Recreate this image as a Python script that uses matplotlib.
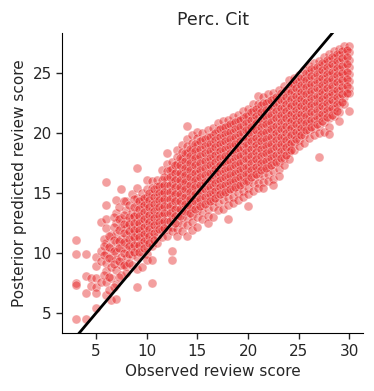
import matplotlib
matplotlib.use("Agg")
import matplotlib.pyplot as plt
import numpy as np

# observed score columns and the posterior predicted scores
obs_cols = [3, 4, 4.5, 5, 5.5, 6, 6.5, 7, 7.5, 8, 8.5, 9, 9.5, 10, 10.5, 11, 11.5,
            12, 12.5, 13, 13.5, 14, 14.5, 15, 15.5, 16, 16.5, 17, 17.5, 18, 18.5,
            19, 19.5, 20, 20.5, 21, 21.5, 22, 22.5, 23, 23.5, 24, 24.5, 25, 25.5,
            26, 26.5, 27, 27.5, 28, 28.5, 29, 29.5, 30]

pred_cols = [
    [11.1, 9.9, 7.5, 7.3, 4.5],
    [9.9, 8.1, 6.7, 4.5],
    [7.9, 7.25],
    [9.7, 8.9, 7.9, 7.2, 6.7, 5.4],
    [12.6, 10.2, 9.3, 7.6],
    [15.9, 14.0, 12.8, 12.1, 10.8, 10.0, 9.2, 8.5, 7.6, 6.5],
    [11.5, 10.4, 9.6, 8.8, 7.9, 6.1],
    [14.4, 13.3, 12.5, 11.6, 10.9, 10.1, 9.5, 8.6, 7.4, 6.2],
    [15.3, 12.9, 12.2, 11.2, 10.4, 9.7, 9.0, 8.2],
    [14.3, 13.6, 12.7, 12.1, 11.5, 10.8, 10.3, 9.6, 8.9, 8.3],
    [14.9, 13.4, 12.9, 12.2, 11.6, 11.0, 10.4, 9.8, 9.0],
    [17.1, 15.4, 14.6, 14.0, 13.3, 12.7, 12.1, 11.6, 11.0, 10.4, 9.7, 8.7, 7.2],
    [15.0, 14.4, 13.8, 13.2, 12.6, 12.0, 11.4, 10.8, 10.1, 8.8],
    [16.1, 15.3, 14.7, 14.1, 13.5, 12.9, 12.3, 11.7, 11.1, 10.5, 9.9, 9.4],
    [16.0, 15.4, 14.8, 14.2, 13.6, 13.0, 12.4, 11.8, 11.2, 10.6, 9.4, 7.5],
    [16.1, 15.6, 15.0, 14.4, 13.8, 13.2, 12.6, 12.0, 11.4, 10.8],
    [16.9, 16.1, 15.5, 14.9, 14.3, 13.7, 13.1, 12.5, 11.9, 11.3],
    [18.3, 17.4, 16.8, 16.2, 15.6, 15.0, 14.4, 13.8, 13.2, 12.6, 12.0, 11.4],
    [17.6, 17.0, 16.4, 15.8, 15.2, 14.6, 14.0, 13.4, 12.8, 12.2, 11.8, 10.2, 9.4],
    [18.6, 18.0, 17.4, 16.8, 16.2, 15.6, 15.0, 14.4, 13.8, 13.2, 12.6, 12.0, 11.4],
    [19.0, 18.4, 17.8, 17.2, 16.6, 16.0, 15.4, 14.8, 14.2, 13.6, 13.0, 12.4, 11.8],
    [20.6, 19.5, 18.9, 18.3, 17.7, 17.1, 16.5, 15.9, 15.3, 14.7, 14.1, 13.5, 12.9, 12.3, 11.4],
    [19.8, 19.2, 18.6, 18.0, 17.4, 16.8, 16.2, 15.6, 15.0, 14.4, 13.8, 13.2, 12.6, 11.9],
    [20.1, 19.6, 19.0, 18.4, 17.8, 17.2, 16.6, 16.0, 15.4, 14.8, 14.2, 13.6, 13.0, 12.2],
    [20.0, 19.4, 18.8, 18.2, 17.6, 17.0, 16.4, 15.8, 15.2, 14.6, 14.0, 13.4, 12.8],
    [20.2, 19.7, 19.1, 18.5, 17.9, 17.3, 16.7, 16.1, 15.5, 14.9, 14.3, 13.7, 13.1, 12.5],
    [20.4, 19.8, 19.2, 18.6, 18.0, 17.4, 16.8, 16.2, 15.6, 15.0, 14.4, 13.8, 13.0],
    [20.8, 20.2, 19.6, 19.0, 18.4, 17.8, 17.2, 16.6, 16.0, 15.4, 14.8, 14.2, 13.6],
    [21.0, 20.4, 19.8, 19.2, 18.6, 18.0, 17.4, 16.8, 16.2, 15.6, 15.0, 14.4, 13.7],
    [21.1, 20.6, 20.0, 19.4, 18.8, 18.2, 17.6, 17.0, 16.4, 15.8, 15.2, 14.6, 14.0, 12.8],
    [21.3, 20.7, 20.1, 19.5, 18.9, 18.3, 17.7, 17.1, 16.5, 15.9, 15.3, 14.7, 14.2],
    [21.5, 21.0, 20.4, 19.8, 19.2, 18.6, 18.0, 17.4, 16.8, 16.2, 15.6, 15.0, 14.4],
    [21.8, 21.2, 20.6, 20.0, 19.4, 18.8, 18.2, 17.6, 17.0, 16.4, 15.8, 15.2, 14.7],
    [22.0, 21.4, 20.8, 20.2, 19.6, 19.0, 18.4, 17.8, 17.2, 16.6, 16.0, 15.4, 14.9, 13.9],
    [22.4, 21.8, 21.2, 20.6, 20.0, 19.4, 18.8, 18.2, 17.6, 17.0, 16.4, 15.8, 15.2],
    [23.1, 22.4, 21.8, 21.2, 20.6, 20.0, 19.4, 18.8, 18.2, 17.6, 17.0, 16.4, 15.8, 15.4],
    [23.0, 22.5, 21.9, 21.3, 20.7, 20.1, 19.5, 18.9, 18.3, 17.7, 17.1, 16.5, 15.9, 15.4],
    [23.2, 22.6, 22.0, 21.4, 20.8, 20.2, 19.6, 19.0, 18.4, 17.8, 17.2, 16.6, 16.0],
    [23.3, 22.8, 22.2, 21.6, 21.0, 20.4, 19.8, 19.2, 18.6, 18.0, 17.4, 16.8, 16.2, 15.7],
    [23.6, 23.0, 22.4, 21.8, 21.2, 20.6, 20.0, 19.4, 18.8, 18.2, 17.6, 17.0, 16.4],
    [23.9, 23.3, 22.7, 22.1, 21.5, 20.9, 20.3, 19.7, 19.1, 18.5, 17.9, 17.3],
    [24.4, 23.8, 23.2, 22.6, 22.0, 21.4, 20.8, 20.2, 19.6, 19.0, 18.4, 17.8],
    [24.6, 24.0, 23.4, 22.8, 22.2, 21.6, 21.0, 20.4, 19.8, 19.2, 18.6],
    [24.8, 24.2, 23.6, 23.0, 22.4, 21.8, 21.2, 20.6, 20.0, 19.4, 18.9],
    [25.2, 24.6, 24.0, 23.4, 22.8, 22.2, 21.6, 21.0, 20.4, 19.8, 19.2],
    [25.6, 25.0, 24.4, 23.8, 23.2, 22.6, 22.0, 21.4, 20.8, 20.2, 19.6],
    [25.8, 25.2, 24.6, 24.0, 23.4, 22.8, 22.2, 21.6, 21.0, 20.4, 19.8],
    [26.0, 25.4, 24.8, 24.2, 23.6, 23.0, 22.4, 21.8, 21.2, 20.6, 20.0, 18.0],
    [26.3, 25.7, 25.1, 24.5, 23.9, 23.3, 22.7, 22.1, 21.5, 20.9, 20.1],
    [26.6, 26.0, 25.4, 24.8, 24.2, 23.6, 23.0, 22.4, 21.8, 21.2, 20.5, 19.9],
    [26.8, 26.2, 25.6, 25.0, 24.4, 23.8, 23.2, 22.6, 22.0, 21.4],
    [27.0, 26.5, 25.9, 25.3, 24.7, 24.1, 23.5, 22.9, 22.3, 21.7, 21.0],
    [27.2, 26.6, 26.0, 25.4, 24.8, 24.2, 23.6, 23.0, 22.4],
    [27.2, 26.7, 26.1, 25.5, 24.9, 24.3, 23.7, 23.3, 21.8],
]

# in-between columns that make up the dense core of the cloud
obs_fill = [5.75, 6.25, 6.75, 7.25, 7.75, 8.25, 8.75, 9.25, 9.75, 10.25, 10.75,
            11.25, 11.75, 12.25, 12.75, 13.25, 13.75, 14.25, 14.75, 15.25, 15.75,
            16.25, 16.75, 17.25, 17.75, 18.25, 18.75, 19.25, 19.75, 20.25, 20.75,
            21.25, 21.75, 22.25, 22.75, 23.25, 23.75, 24.25, 24.75, 25.25, 25.75,
            26.25, 26.75, 27.25, 27.75, 28.25, 28.75, 29.25, 29.75]

pred_fill = [
    [11.2, 10.6, 9.8, 8.2],
    [11.4, 10.5, 9.6, 8.0, 6.9],
    [13.0, 12.2, 11.1, 10.2, 9.1, 7.2],
    [13.8, 12.8, 11.9, 11.0, 10.4, 9.3, 8.0],
    [14.3, 13.2, 12.4, 11.7, 10.9, 10.0, 9.0],
    [14.0, 13.0, 12.4, 11.8, 11.2, 10.6, 9.9, 9.2],
    [14.5, 13.8, 13.1, 12.5, 11.9, 11.3, 10.7, 10.1],
    [14.3, 13.7, 13.1, 12.5, 11.9, 11.3, 10.7, 10.1],
    [14.6, 14.0, 13.4, 12.8, 12.2, 11.6, 11.0, 10.4],
    [15.0, 14.4, 13.8, 13.2, 12.6, 12.0, 11.4, 10.8],
    [15.3, 14.7, 14.1, 13.5, 12.9, 12.3, 11.7, 11.1],
    [15.6, 15.0, 14.4, 13.8, 13.2, 12.6, 12.0],
    [16.3, 15.7, 15.1, 14.5, 13.9, 13.3, 12.7, 12.1],
    [16.9, 16.3, 15.7, 15.1, 14.5, 13.9, 13.3, 12.7],
    [17.3, 16.7, 16.1, 15.5, 14.9, 14.3, 13.7, 13.1, 12.5],
    [17.9, 17.3, 16.7, 16.1, 15.5, 14.9, 14.3, 13.7, 13.1],
    [18.3, 17.7, 17.1, 16.5, 15.9, 15.3, 14.7, 14.1, 13.5],
    [18.7, 18.1, 17.5, 16.9, 16.3, 15.7, 15.1, 14.5, 13.9, 13.3],
    [19.1, 18.5, 17.9, 17.3, 16.7, 16.1, 15.5, 14.9, 14.3, 13.7],
    [19.3, 18.7, 18.1, 17.5, 16.9, 16.3, 15.7, 15.1, 14.5, 13.9],
    [19.5, 18.9, 18.3, 17.7, 17.1, 16.5, 15.9, 15.3, 14.7, 14.1],
    [19.7, 19.1, 18.5, 17.9, 17.3, 16.7, 16.1, 15.5, 14.9, 14.3],
    [20.0, 19.4, 18.8, 18.2, 17.6, 17.0, 16.4, 15.8, 15.2, 14.6],
    [20.3, 19.7, 19.1, 18.5, 17.9, 17.3, 16.7, 16.1, 15.5, 14.9],
    [20.5, 19.9, 19.3, 18.7, 18.1, 17.5, 16.9, 16.3, 15.7, 15.1],
    [20.7, 20.1, 19.5, 18.9, 18.3, 17.7, 17.1, 16.5, 15.9, 15.3],
    [20.9, 20.3, 19.7, 19.1, 18.5, 17.9, 17.3, 16.7, 16.1, 15.5],
    [21.1, 20.5, 19.9, 19.3, 18.7, 18.1, 17.5, 16.9, 16.3, 15.7],
    [21.4, 20.8, 20.2, 19.6, 19.0, 18.4, 17.8, 17.2, 16.6, 16.0],
    [21.7, 21.1, 20.5, 19.9, 19.3, 18.7, 18.1, 17.5, 16.9, 16.3],
    [22.0, 21.4, 20.8, 20.2, 19.6, 19.0, 18.4, 17.8, 17.2, 16.6],
    [22.3, 21.7, 21.1, 20.5, 19.9, 19.3, 18.7, 18.1, 17.5, 16.9],
    [22.5, 21.9, 21.3, 20.7, 20.1, 19.5, 18.9, 18.3, 17.7, 17.1],
    [22.7, 22.1, 21.5, 20.9, 20.3, 19.7, 19.1, 18.5, 17.9, 17.3],
    [23.0, 22.4, 21.8, 21.2, 20.6, 20.0, 19.4, 18.8, 18.2, 17.6],
    [23.3, 22.7, 22.1, 21.5, 20.9, 20.3, 19.7, 19.1, 18.5, 17.9],
    [23.6, 23.0, 22.4, 21.8, 21.2, 20.6, 20.0, 19.4, 18.8, 18.2],
    [24.0, 23.4, 22.8, 22.2, 21.6, 21.0, 20.4, 19.8, 19.2, 18.6],
    [24.3, 23.7, 23.1, 22.5, 21.9, 21.3, 20.7, 20.1, 19.5],
    [24.6, 24.0, 23.4, 22.8, 22.2, 21.6, 21.0, 20.4, 19.8],
    [25.0, 24.4, 23.8, 23.2, 22.6, 22.0, 21.4, 20.8, 20.2],
    [25.3, 24.7, 24.1, 23.5, 22.9, 22.3, 21.7, 21.1, 20.5],
    [25.5, 24.9, 24.3, 23.7, 23.1, 22.5, 21.9, 21.3, 20.7],
    [25.8, 25.2, 24.6, 24.0, 23.4, 22.8, 22.2, 21.6, 21.0],
    [26.1, 25.5, 24.9, 24.3, 23.7, 23.1, 22.5, 21.9, 21.3],
    [26.3, 25.7, 25.1, 24.5, 23.9, 23.3, 22.7, 22.1, 21.5],
    [26.6, 26.0, 25.4, 24.8, 24.2, 23.6, 23.0, 22.4, 21.8],
    [26.8, 26.2, 25.6, 25.0, 24.4, 23.8, 23.2, 22.6],
    [26.9, 26.3, 25.7, 25.1, 24.5, 23.9, 23.3],
]

observed = np.concatenate([[x] * len(ys) for x, ys in zip(obs_cols + obs_fill, pred_cols + pred_fill)])
predicted = np.concatenate(pred_cols + pred_fill)

plt.rcParams['font.family'] = 'DejaVu Sans'
plt.rcParams['text.color'] = '#262626'
plt.rcParams['axes.labelcolor'] = '#262626'
plt.rcParams['xtick.color'] = '#262626'
plt.rcParams['ytick.color'] = '#262626'

fig = plt.figure(figsize=(3.74, 3.91), dpi=100)
ax = fig.add_axes([0.166, 0.148, 0.805, 0.768])

ax.scatter(observed, predicted, s=42, color='#e41a1c', alpha=0.42,
           edgecolor='white', linewidth=0.6)
ax.axline((0, 0), slope=1, color='black', linewidth=2)

ax.set_xlim(1.65, 31.35)
ax.set_ylim(3.33, 28.33)
ax.set_xticks([5, 10, 15, 20, 25, 30])
ax.set_yticks([5, 10, 15, 20, 25])
ax.tick_params(labelsize=11, width=1, length=4)

ax.set_xlabel('Observed review score', fontsize=11)
ax.set_ylabel('Posterior predicted review score', fontsize=11)
ax.set_title('Perc. Cit', fontsize=12.5)

ax.spines['top'].set_visible(False)
ax.spines['right'].set_visible(False)

fig.savefig('out.png', dpi=100)
